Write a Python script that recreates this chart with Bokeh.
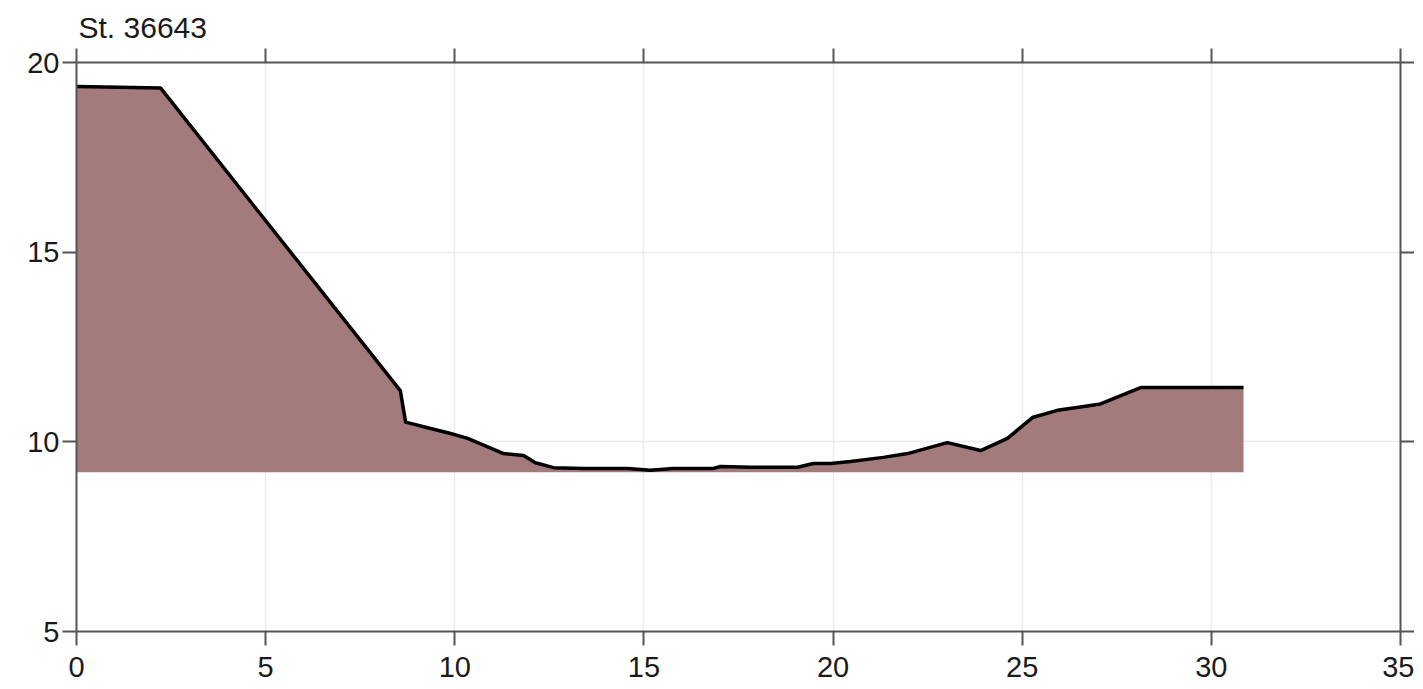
from bokeh.plotting import figure
from bokeh.models import Range1d, LinearAxis, FixedTicker
from bokeh.embed import file_html
from bokeh.resources import INLINE

station = "St. 36643"

dist = [0.0, 2.22, 8.56, 8.70, 9.36, 9.89, 10.34, 11.29, 11.82, 12.13, 12.61,
        13.40, 14.57, 15.17, 15.78, 16.84, 17.02, 17.82, 19.06, 19.48, 19.93,
        20.46, 21.33, 21.97, 23.02, 23.90, 24.61, 25.27, 25.93, 26.54, 27.07,
        28.13, 30.85]
elev = [19.37, 19.33, 11.35, 10.52, 10.35, 10.22, 10.09, 9.69, 9.64, 9.45, 9.32,
        9.30, 9.30, 9.25, 9.30, 9.30, 9.35, 9.33, 9.33, 9.43, 9.43,
        9.48, 9.59, 9.69, 9.98, 9.77, 10.09, 10.64, 10.83, 10.92, 11.00,
        11.43, 11.43]
base_level = 9.2

x_ticks = [0, 5, 10, 15, 20, 25, 30, 35]
y_ticks = [5, 10, 15, 20]

FONT = "Liberation Sans"
AXIS_COLOR = "#555555"

p = figure(frame_width=1324, frame_height=569,
           x_range=Range1d(0, 35), y_range=Range1d(5, 20),
           output_backend="svg", toolbar_location=None,
           min_border_left=76, min_border_top=62, min_border_right=8,
           min_border_bottom=56)
p.outline_line_color = None
p.background_fill_color = "white"

p.title.text = station
p.title.text_font = FONT
p.title.text_font_size = "30px"
p.title.text_font_style = "normal"
p.title.text_color = "#1a1a1a"
p.title.align = "left"
p.title.offset = 2
p.title.standoff = 9

top_axis = LinearAxis()
right_axis = LinearAxis()
p.add_layout(top_axis, "above")
p.add_layout(right_axis, "right")

for ax in [p.below[0], top_axis]:
    ax.ticker = FixedTicker(ticks=x_ticks)
for ax in [p.left[0], right_axis]:
    ax.ticker = FixedTicker(ticks=y_ticks)

for ax in [p.below[0], p.left[0], top_axis, right_axis]:
    ax.axis_line_color = AXIS_COLOR
    ax.axis_line_width = 2
    ax.major_tick_line_color = AXIS_COLOR
    ax.major_tick_line_width = 2
    ax.major_tick_out = 14
    ax.major_tick_in = 0
    ax.minor_tick_out = 0
    ax.minor_tick_in = 0
    ax.major_label_text_font = FONT
    ax.major_label_text_font_size = "29px"
    ax.major_label_text_color = "#1a1a1a"

p.below[0].major_label_standoff = 11
p.left[0].major_label_standoff = 3

top_axis.major_label_overrides = {t: "" for t in x_ticks}
right_axis.major_label_overrides = {t: "" for t in y_ticks}
top_axis.major_label_standoff = 0
right_axis.major_label_standoff = 0

p.xgrid.ticker = FixedTicker(ticks=x_ticks)
p.ygrid.ticker = FixedTicker(ticks=y_ticks)
p.xgrid.grid_line_color = "#ebebeb"
p.ygrid.grid_line_color = "#ebebeb"
p.xgrid.grid_line_width = 1.5
p.ygrid.grid_line_width = 1.5

p.varea(x=dist, y1=base_level, y2=elev, fill_color="#a47b7c")
p.line(dist, elev, line_color="black", line_width=3.5, line_join="round")

open("out.html", "w").write(file_html(p, INLINE))
